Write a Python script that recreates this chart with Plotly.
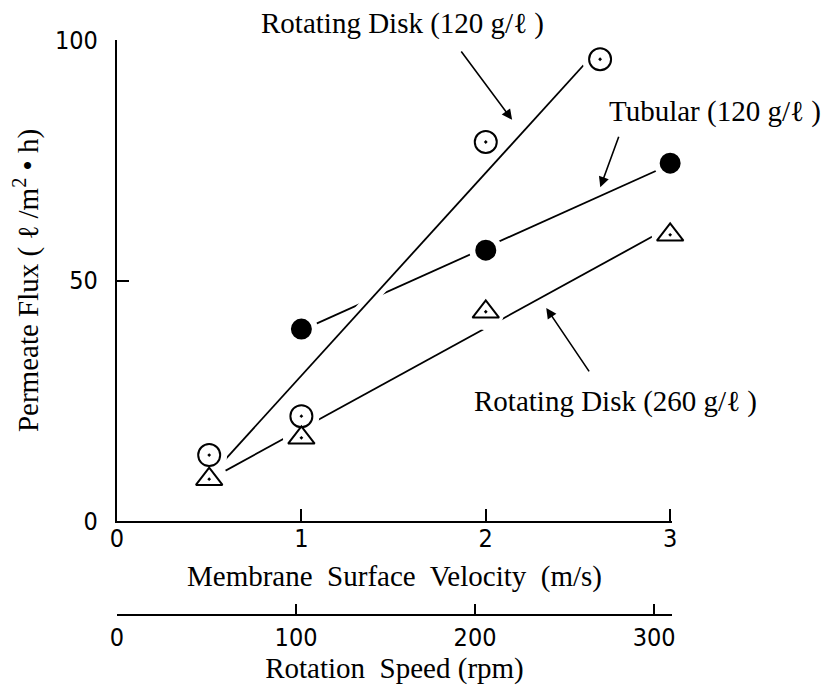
import numpy as np
import plotly.graph_objects as go

# ---- data ----
disk120_v = [0.5, 1.0, 2.0, 2.62]
disk120_flux = [13.7, 21.8, 78.8, 96.0]

tubular_v = [1.0, 2.0, 3.0]
tubular_flux = [39.9, 56.3, 74.4]

disk260_v = [0.5, 1.0, 2.0, 3.0]
disk260_flux = [8.7, 17.3, 43.5, 59.5]

flux_ticks = [0, 50, 100]
velocity_ticks = [0, 1, 2, 3]
rpm_ticks = [0, 100, 200, 300]

SERIF = "Liberation Serif, Times New Roman, DejaVu Serif, serif"
NARROW = "Liberation Sans Narrow, DejaVu Sans Condensed, Liberation Sans, sans-serif"


def fit_line(xs, ys):
    k, b = np.polyfit(xs, ys, 1)
    xx = np.array([min(xs), max(xs)])
    return xx, k * xx + b, k, b


fig = go.Figure()

series = [
    (disk120_v, disk120_flux, "circle-dot", 22, "white"),
    (tubular_v, tubular_flux, "circle", 19, "black"),
    (disk260_v, disk260_flux, "triangle-up-dot", 23, "white"),
]

fits = [fit_line(x, y) for x, y, *_ in series]

# regression lines: tubular and 260 first
for idx in (1, 2):
    xx, yy, _, _ = fits[idx]
    fig.add_trace(go.Scatter(x=xx, y=yy, mode="lines",
                             line=dict(color="black", width=1.8),
                             showlegend=False, hoverinfo="skip", cliponaxis=False))

# white halo where the 120 g/l disk line crosses the tubular line
_, _, k1, b1 = fits[0]
_, _, k2, b2 = fits[1]
xi = (b2 - b1) / (k1 - k2)
hx = np.array([xi - 0.07, xi + 0.07])
fig.add_trace(go.Scatter(x=hx, y=k1 * hx + b1, mode="lines",
                         line=dict(color="white", width=12),
                         showlegend=False, hoverinfo="skip"))
xx, yy, _, _ = fits[0]
fig.add_trace(go.Scatter(x=xx, y=yy, mode="lines",
                         line=dict(color="black", width=1.8),
                         showlegend=False, hoverinfo="skip", cliponaxis=False))

# white halos around markers (gaps in the lines)
for x, y, sym, size, fill in series:
    fig.add_trace(go.Scatter(x=x, y=y, mode="markers",
                             marker=dict(symbol="circle", size=size + 14, color="white",
                                         line=dict(width=0)),
                             showlegend=False, hoverinfo="skip", cliponaxis=False))

# markers
for x, y, sym, size, fill in series:
    fig.add_trace(go.Scatter(x=x, y=y, mode="markers",
                             marker=dict(symbol=sym, size=size, color=fill,
                                         line=dict(color="black", width=2)),
                             showlegend=False, hoverinfo="skip", cliponaxis=False))

# invisible trace to carry the rpm axis
fig.add_trace(go.Scatter(x=rpm_ticks, y=[None] * len(rpm_ticks), xaxis="x2", yaxis="y",
                         mode="markers", showlegend=False, hoverinfo="skip"))

# labels (paper coords) and arrows (data coords)
labels = [
    ("Rotating Disk (120 g/ℓ )", 0.515, 1.028),
    ("Tubular (120 g/ℓ )", 1.077, 0.875),
    ("Rotating Disk (260 g/ℓ )", 0.899, 0.372),
]
for text, tx, ty in labels:
    fig.add_annotation(x=tx, y=ty, xref="paper", yref="paper", text=text, showarrow=False,
                       xanchor="center", yanchor="middle",
                       font=dict(family=SERIF, size=29, color="black"))

arrows = [
    (2.143, 83.4, 1.861, 97.9),
    (2.621, 69.4, 2.724, 80.2),
    (2.328, 44.3, 2.566, 30.8),
]
for hx_, hy_, ax_, ay_ in arrows:
    fig.add_annotation(x=hx_, y=hy_, ax=ax_, ay=ay_, xref="x", yref="y",
                       axref="x", ayref="y", text="", showarrow=True,
                       arrowhead=2, arrowsize=1.3, arrowwidth=1.6, arrowcolor="black")

fig.update_layout(
    width=834, height=691,
    margin=dict(l=109, r=170, t=32, b=84, autoexpand=False),
    paper_bgcolor="white", plot_bgcolor="white",
    showlegend=False,
    xaxis=dict(
        range=[0, 3.01], domain=[0, 1], anchor="y",
        tickmode="array", tickvals=velocity_ticks, ticktext=[str(v) for v in velocity_ticks],
        ticks="inside", ticklen=12, tickwidth=2, tickcolor="black",
        showline=True, linecolor="black", linewidth=2.2,
        showgrid=False, zeroline=False, ticklabelstandoff=-6,
        tickfont=dict(family=NARROW, size=25, color="black"),
        title=dict(text="Membrane  Surface  Velocity  (m/s)", standoff=14,
                   font=dict(family=SERIF, size=29, color="black")),
    ),
    yaxis=dict(
        range=[0, 100], domain=[(615 - 521) / 575, 1], anchor="x",
        tickmode="array", tickvals=flux_ticks, ticktext=[str(v) for v in flux_ticks],
        ticks="inside", ticklen=12, tickwidth=2, tickcolor="black",
        showline=True, linecolor="black", linewidth=2.2,
        showgrid=False, zeroline=False, ticklabelstandoff=12,
        tickfont=dict(family=NARROW, size=25, color="black"),
        title=dict(text="Permeate Flux ( ℓ /m<sup>2</sup> • h)", standoff=10,
                   font=dict(family=SERIF, size=29, color="black")),
    ),
    xaxis2=dict(
        range=[0, 310], domain=[0, 548 / 555], anchor="free", position=0,
        overlaying="x",
        tickmode="array", tickvals=rpm_ticks, ticktext=[str(v) for v in rpm_ticks],
        ticks="inside", ticklen=10, tickwidth=2, tickcolor="black",
        showline=True, linecolor="black", linewidth=2,
        showgrid=False, zeroline=False, side="bottom", ticklabelstandoff=0,
        tickfont=dict(family=NARROW, size=25, color="black"),
        title=dict(text="Rotation  Speed (rpm)", standoff=5,
                   font=dict(family=SERIF, size=29, color="black")),
    ),
)

fig.write_html("out.html")
